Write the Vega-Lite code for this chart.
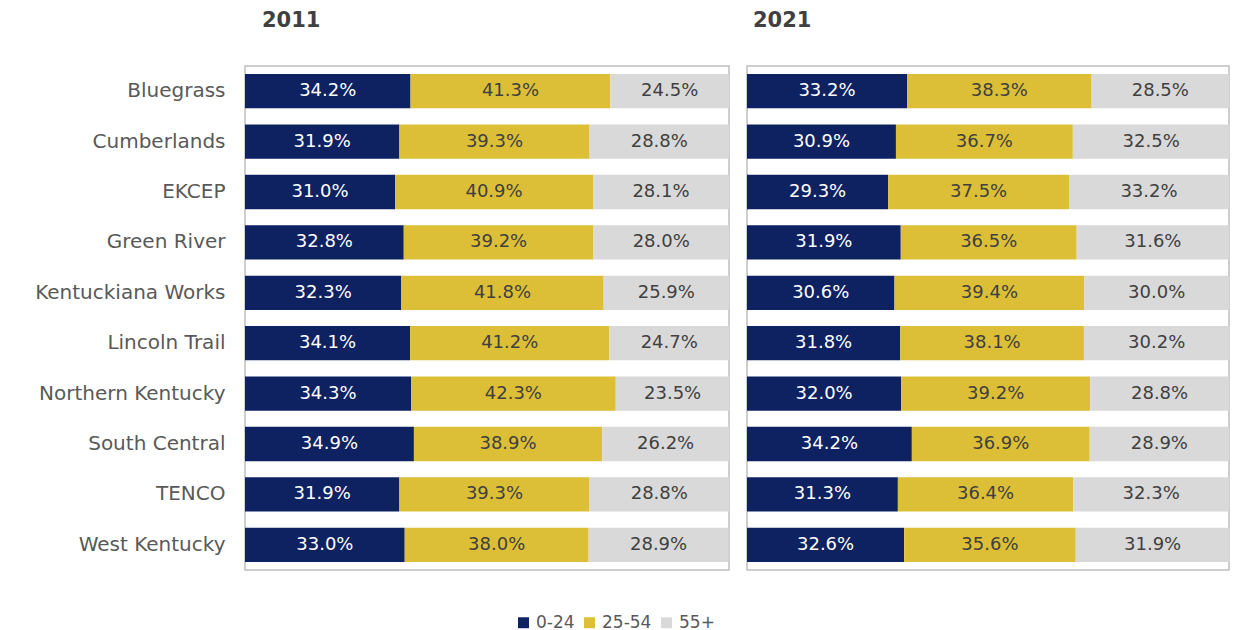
{
  "$schema": "https://vega.github.io/schema/vega-lite/v6.json",
  "background": "white",
  "padding": {"left": 33, "top": 9, "right": 8, "bottom": 5},
  "config": {
    "font": "DejaVu Sans",
    "view": {"stroke": "#BFBFBF", "strokeWidth": 1.5},
    "concat": {"spacing": 15}
  },
  "data": {"values": [
    {"region": "Bluegrass", "year": 2011, "age": "0-24", "value": 34.2},
    {"region": "Bluegrass", "year": 2011, "age": "25-54", "value": 41.3},
    {"region": "Bluegrass", "year": 2011, "age": "55+", "value": 24.5},
    {"region": "Cumberlands", "year": 2011, "age": "0-24", "value": 31.9},
    {"region": "Cumberlands", "year": 2011, "age": "25-54", "value": 39.3},
    {"region": "Cumberlands", "year": 2011, "age": "55+", "value": 28.8},
    {"region": "EKCEP", "year": 2011, "age": "0-24", "value": 31.0},
    {"region": "EKCEP", "year": 2011, "age": "25-54", "value": 40.9},
    {"region": "EKCEP", "year": 2011, "age": "55+", "value": 28.1},
    {"region": "Green River", "year": 2011, "age": "0-24", "value": 32.8},
    {"region": "Green River", "year": 2011, "age": "25-54", "value": 39.2},
    {"region": "Green River", "year": 2011, "age": "55+", "value": 28.0},
    {"region": "Kentuckiana Works", "year": 2011, "age": "0-24", "value": 32.3},
    {"region": "Kentuckiana Works", "year": 2011, "age": "25-54", "value": 41.8},
    {"region": "Kentuckiana Works", "year": 2011, "age": "55+", "value": 25.9},
    {"region": "Lincoln Trail", "year": 2011, "age": "0-24", "value": 34.1},
    {"region": "Lincoln Trail", "year": 2011, "age": "25-54", "value": 41.2},
    {"region": "Lincoln Trail", "year": 2011, "age": "55+", "value": 24.7},
    {"region": "Northern Kentucky", "year": 2011, "age": "0-24", "value": 34.3},
    {"region": "Northern Kentucky", "year": 2011, "age": "25-54", "value": 42.3},
    {"region": "Northern Kentucky", "year": 2011, "age": "55+", "value": 23.5},
    {"region": "South Central", "year": 2011, "age": "0-24", "value": 34.9},
    {"region": "South Central", "year": 2011, "age": "25-54", "value": 38.9},
    {"region": "South Central", "year": 2011, "age": "55+", "value": 26.2},
    {"region": "TENCO", "year": 2011, "age": "0-24", "value": 31.9},
    {"region": "TENCO", "year": 2011, "age": "25-54", "value": 39.3},
    {"region": "TENCO", "year": 2011, "age": "55+", "value": 28.8},
    {"region": "West Kentucky", "year": 2011, "age": "0-24", "value": 33.0},
    {"region": "West Kentucky", "year": 2011, "age": "25-54", "value": 38.0},
    {"region": "West Kentucky", "year": 2011, "age": "55+", "value": 28.9},
    {"region": "Bluegrass", "year": 2021, "age": "0-24", "value": 33.2},
    {"region": "Bluegrass", "year": 2021, "age": "25-54", "value": 38.3},
    {"region": "Bluegrass", "year": 2021, "age": "55+", "value": 28.5},
    {"region": "Cumberlands", "year": 2021, "age": "0-24", "value": 30.9},
    {"region": "Cumberlands", "year": 2021, "age": "25-54", "value": 36.7},
    {"region": "Cumberlands", "year": 2021, "age": "55+", "value": 32.5},
    {"region": "EKCEP", "year": 2021, "age": "0-24", "value": 29.3},
    {"region": "EKCEP", "year": 2021, "age": "25-54", "value": 37.5},
    {"region": "EKCEP", "year": 2021, "age": "55+", "value": 33.2},
    {"region": "Green River", "year": 2021, "age": "0-24", "value": 31.9},
    {"region": "Green River", "year": 2021, "age": "25-54", "value": 36.5},
    {"region": "Green River", "year": 2021, "age": "55+", "value": 31.6},
    {"region": "Kentuckiana Works", "year": 2021, "age": "0-24", "value": 30.6},
    {"region": "Kentuckiana Works", "year": 2021, "age": "25-54", "value": 39.4},
    {"region": "Kentuckiana Works", "year": 2021, "age": "55+", "value": 30.0},
    {"region": "Lincoln Trail", "year": 2021, "age": "0-24", "value": 31.8},
    {"region": "Lincoln Trail", "year": 2021, "age": "25-54", "value": 38.1},
    {"region": "Lincoln Trail", "year": 2021, "age": "55+", "value": 30.2},
    {"region": "Northern Kentucky", "year": 2021, "age": "0-24", "value": 32.0},
    {"region": "Northern Kentucky", "year": 2021, "age": "25-54", "value": 39.2},
    {"region": "Northern Kentucky", "year": 2021, "age": "55+", "value": 28.8},
    {"region": "South Central", "year": 2021, "age": "0-24", "value": 34.2},
    {"region": "South Central", "year": 2021, "age": "25-54", "value": 36.9},
    {"region": "South Central", "year": 2021, "age": "55+", "value": 28.9},
    {"region": "TENCO", "year": 2021, "age": "0-24", "value": 31.3},
    {"region": "TENCO", "year": 2021, "age": "25-54", "value": 36.4},
    {"region": "TENCO", "year": 2021, "age": "55+", "value": 32.3},
    {"region": "West Kentucky", "year": 2021, "age": "0-24", "value": 32.6},
    {"region": "West Kentucky", "year": 2021, "age": "25-54", "value": 35.6},
    {"region": "West Kentucky", "year": 2021, "age": "55+", "value": 31.9}
  ]},
  "transform": [
    {"stack": "value", "groupby": ["year", "region"], "sort": [{"field": "age", "order": "ascending"}], "as": ["x0", "x1"]},
    {"calculate": "(datum.x0 + datum.x1) / 2", "as": "mid"},
    {"calculate": "format(datum.value, '.1f') + '%'", "as": "label"}
  ],
  "hconcat": [
    {
      "title": {"text": "2011", "anchor": "start", "frame": "group", "dx": 17, "fontSize": 21, "fontWeight": "bold", "color": "#404040", "offset": 35},
      "width": 484,
      "height": 504,
      "transform": [{"filter": "datum.year == 2011"}],
      "encoding": {
        "y": {"field": "region", "type": "nominal", "title": null,
          "sort": ["Bluegrass", "Cumberlands", "EKCEP", "Green River", "Kentuckiana Works", "Lincoln Trail", "Northern Kentucky", "South Central", "TENCO", "West Kentucky"],
          "scale": {"paddingInner": 0.32, "paddingOuter": 0.16},
          "axis": {"ticks": false, "domain": false, "labelFontSize": 20, "labelColor": "#595959", "labelPadding": 20, "labelLimit": 300}}
      },
      "layer": [
        {"mark": {"type": "bar"},
         "encoding": {
           "x": {"field": "x0", "type": "quantitative", "scale": {"domain": [0, 100], "nice": false}, "axis": null},
           "x2": {"field": "x1"},
           "color": {"field": "age", "type": "nominal", "scale": {"domain": ["0-24", "25-54", "55+"], "range": ["#0E2262", "#DCBF36", "#D9D9D9"]},
             "legend": {"orient": "none", "direction": "horizontal", "legendX": 270, "legendY": 548, "title": null, "symbolType": "square", "symbolSize": 120, "symbolStrokeWidth": 0, "labelFontSize": 17, "labelColor": "#595959", "columnPadding": 6, "labelOffset": 4}}
         }},
        {"mark": {"type": "text", "fontSize": 18},
         "encoding": {
           "x": {"field": "mid", "type": "quantitative", "scale": {"domain": [0, 100], "nice": false}},
           "text": {"field": "label"},
           "color": {"condition": {"test": "datum.age == '0-24'", "value": "white"}, "value": "#404040"}
         }}
      ]
    },
    {
      "title": {"text": "2021", "anchor": "start", "frame": "group", "dx": 6, "fontSize": 21, "fontWeight": "bold", "color": "#404040", "offset": 35},
      "width": 482,
      "height": 504,
      "transform": [{"filter": "datum.year == 2021"}],
      "encoding": {
        "y": {"field": "region", "type": "nominal", "title": null,
          "sort": ["Bluegrass", "Cumberlands", "EKCEP", "Green River", "Kentuckiana Works", "Lincoln Trail", "Northern Kentucky", "South Central", "TENCO", "West Kentucky"],
          "scale": {"paddingInner": 0.32, "paddingOuter": 0.16},
          "axis": null}
      },
      "layer": [
        {"mark": {"type": "bar"},
         "encoding": {
           "x": {"field": "x0", "type": "quantitative", "scale": {"domain": [0, 100], "nice": false}, "axis": null},
           "x2": {"field": "x1"},
           "color": {"field": "age", "type": "nominal"}
         }},
        {"mark": {"type": "text", "fontSize": 18},
         "encoding": {
           "x": {"field": "mid", "type": "quantitative", "scale": {"domain": [0, 100], "nice": false}},
           "text": {"field": "label"},
           "color": {"condition": {"test": "datum.age == '0-24'", "value": "white"}, "value": "#404040"}
         }}
      ]
    }
  ]
}
